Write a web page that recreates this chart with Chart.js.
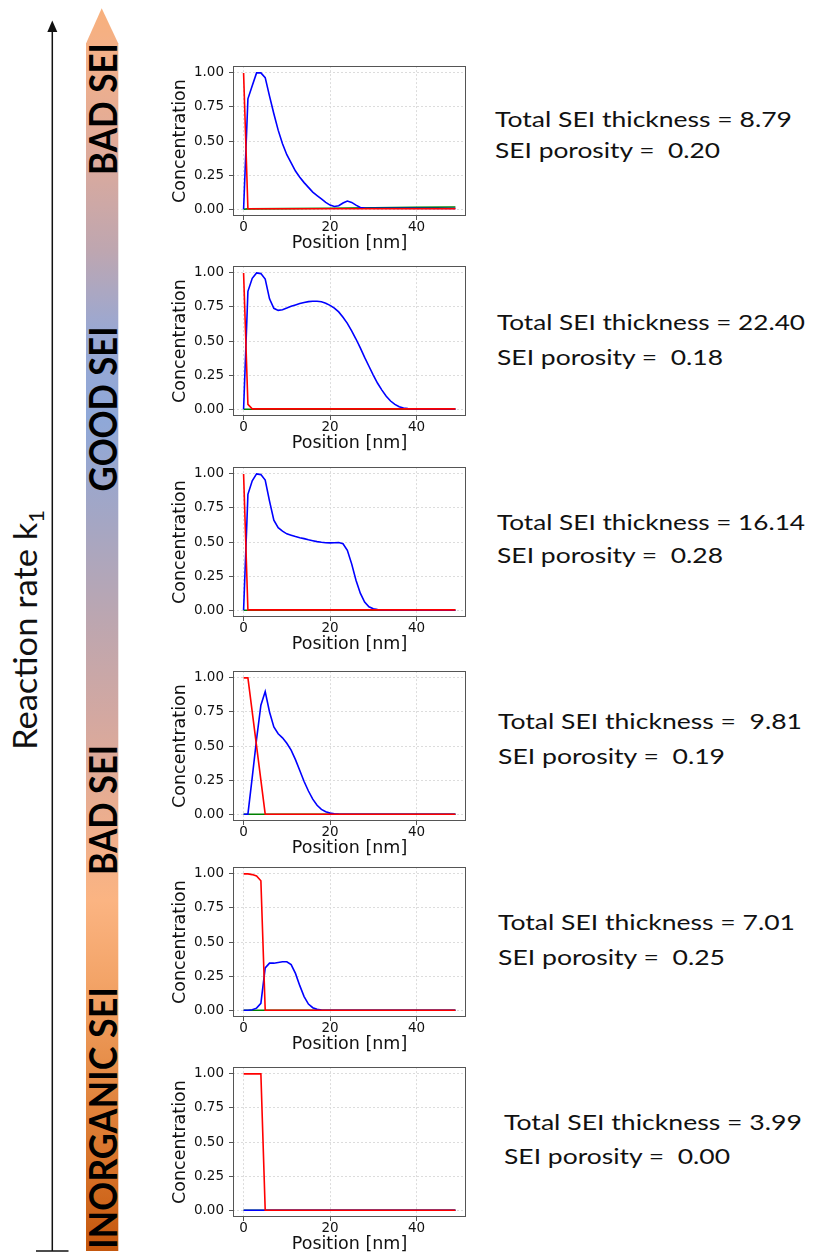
<!DOCTYPE html>
<html>
<head>
<meta charset="utf-8">
<script src="https://cdn.jsdelivr.net/npm/chart.js@4.4.1/dist/chart.umd.min.js"></script>
<style>
    body { margin: 0; width: 813px; height: 1259px; background: #fff; position: relative; overflow: hidden; }
    #deco { position: absolute; left: 0; top: 0; }
    #deco text { white-space: pre; }
    .panel { position: absolute; left: 160px; width: 310px; height: 201px; }
</style>
</head>
<body>
<svg id="deco" width="813" height="1259" xmlns="http://www.w3.org/2000/svg">
    <defs>
        <linearGradient id="seiGrad" gradientUnits="userSpaceOnUse" x1="0" y1="8" x2="0" y2="1251">
            <stop offset="0" stop-color="#f8b07c"/>
            <stop offset="0.042" stop-color="#f2b08a"/>
            <stop offset="0.122" stop-color="#dcaa9c"/>
            <stop offset="0.195" stop-color="#bea6b0"/>
            <stop offset="0.259" stop-color="#9aa8d2"/>
            <stop offset="0.331" stop-color="#8fa8d8"/>
            <stop offset="0.412" stop-color="#a4a6c4"/>
            <stop offset="0.492" stop-color="#bca6b0"/>
            <stop offset="0.573" stop-color="#d4a8a0"/>
            <stop offset="0.653" stop-color="#ecae8e"/>
            <stop offset="0.718" stop-color="#fbb482"/>
            <stop offset="0.782" stop-color="#f3a468"/>
            <stop offset="0.862" stop-color="#e48a44"/>
            <stop offset="0.943" stop-color="#d46e24"/>
            <stop offset="1" stop-color="#c4560c"/>
        </linearGradient>
    </defs>
    <g id="left"></g>
    <g id="info"></g>
</svg>

<script>
/* ==========================
   DADOS (leitura do gráfico)
========================== */
const THICKNESS = ["8.79", "22.40", "16.14", " 9.81", "7.01", "3.99"];
const POROSITY = ["0.20", "0.18", "0.28", "0.19", "0.25", "0.00"];
const REGIME_LABELS = ["BAD SEI", "GOOD SEI", "BAD SEI", "INORGANIC SEI"];
const X_TICKS = [0, 20, 40];
const Y_TICKS = [0, 0.25, 0.5, 0.75, 1.0];

// painel 1 (k1 mais alto)
const blue1X = [0, 1, 2, 3, 4, 5, 6, 7, 8, 9, 10, 11, 12, 13, 14, 15, 16, 17, 18, 19, 20, 21, 22, 23, 24, 25, 26, 27, 28, 49];
const blue1Y = [0, 0.81, 0.905, 1.0, 1.0, 0.965, 0.83, 0.70, 0.58, 0.48, 0.40, 0.34, 0.28, 0.235, 0.195, 0.16, 0.125, 0.10, 0.075, 0.05, 0.03, 0.02, 0.025, 0.045, 0.06, 0.05, 0.03, 0.012, 0.008, 0.005];
const red1X = [0, 1, 49];
const red1Y = [1.0, 0.003, 0.003];
const green1X = [0, 1, 10, 20, 30, 40, 49];
const green1Y = [0, 0.002, 0.004, 0.007, 0.01, 0.013, 0.016];

// painel 2
const blue2X = [0, 1, 2, 3, 4, 5, 6, 7, 8, 9, 10, 11, 12, 13, 14, 15, 16, 17, 18, 19, 20, 21, 22, 23, 24, 25, 26, 27, 28, 29, 30, 31, 32, 33, 34, 35, 36, 37, 38, 39, 40, 49];
const blue2Y = [0, 0.865, 0.96, 1.0, 0.995, 0.955, 0.81, 0.74, 0.725, 0.73, 0.742, 0.755, 0.765, 0.775, 0.783, 0.789, 0.792, 0.792, 0.788, 0.778, 0.762, 0.742, 0.714, 0.675, 0.63, 0.575, 0.515, 0.45, 0.38, 0.315, 0.25, 0.19, 0.14, 0.095, 0.06, 0.035, 0.018, 0.009, 0.004, 0.002, 0.001, 0.001];
const red2X = [0, 1, 2, 49];
const red2Y = [1.0, 0.035, 0.002, 0.002];
const green2X = [0, 49];
const green2Y = [0, 0];

// painel 3
const blue3X = [0, 1, 2, 3, 4, 5, 6, 7, 8, 9, 10, 11, 12, 13, 14, 15, 16, 17, 18, 19, 20, 21, 22, 23, 24, 25, 26, 27, 28, 29, 30, 31, 32, 49];
const blue3Y = [0, 0.85, 0.95, 1.0, 0.995, 0.955, 0.80, 0.66, 0.605, 0.58, 0.56, 0.55, 0.54, 0.532, 0.525, 0.517, 0.51, 0.503, 0.498, 0.495, 0.494, 0.495, 0.497, 0.488, 0.44, 0.34, 0.22, 0.125, 0.06, 0.025, 0.01, 0.004, 0.001, 0];
const red3X = [0, 1, 49];
const red3Y = [1.0, 0.002, 0.002];
const green3X = [0, 49];
const green3Y = [0, 0];

// painel 4
const blue4X = [0, 1, 2, 3, 4, 5, 6, 7, 8, 9, 10, 11, 12, 13, 14, 15, 16, 17, 18, 19, 20, 21, 22, 49];
const blue4Y = [0, 0, 0.27, 0.55, 0.80, 0.90, 0.75, 0.64, 0.59, 0.56, 0.52, 0.47, 0.40, 0.32, 0.24, 0.17, 0.11, 0.065, 0.035, 0.018, 0.008, 0.003, 0.001, 0];
const red4X = [0, 1, 5, 49];
const red4Y = [1.0, 1.0, 0, 0];
const green4X = [0, 49];
const green4Y = [0, 0];

// painel 5
const blue5X = [0, 1, 2, 3, 4, 5, 6, 7, 8, 9, 10, 11, 12, 13, 14, 15, 16, 17, 18, 49];
const blue5Y = [0, 0, 0.003, 0.015, 0.05, 0.31, 0.345, 0.345, 0.35, 0.355, 0.355, 0.335, 0.27, 0.18, 0.10, 0.045, 0.018, 0.006, 0.001, 0];
const red5X = [0, 1, 2, 3, 4, 5, 49];
const red5Y = [1.0, 1.0, 0.995, 0.985, 0.95, 0, 0];
const green5X = [0, 49];
const green5Y = [0, 0];

// painel 6 (SEI inorgânica)
const blue6X = [0, 49];
const blue6Y = [0, 0];
const red6X = [0, 4, 5, 49];
const red6Y = [1.0, 1.0, 0, 0];
const green6X = [0, 49];
const green6Y = [0, 0];

/* ==========================
   LAYOUT
========================== */
const CANVAS_W = 310;
const CANVAS_H = 201;
const PANEL_TOPS = [53, 253, 454, 658, 854, 1054];   // topo do canvas (área do gráfico = +8)
const INFO_POS = [
    { x: 495, y1: 127, y2: 158, w1: 297, w2: 225 },
    { x: 497, y1: 330, y2: 365, w1: 308, w2: 226 },
    { x: 497, y1: 530, y2: 563, w1: 308, w2: 226 },
    { x: 498, y1: 729, y2: 764, w1: 304, w2: 227 },
    { x: 498, y1: 930, y2: 965, w1: 297, w2: 227 },
    { x: 504, y1: 1130, y2: 1164, w1: 298, w2: 226 }
];
const LABEL_POS = [
    { cy: 109, len: 132 },
    { cy: 409, len: 165 },
    { cy: 810, len: 130 },
    { cy: 1118, len: 262 }
];

const SVG_NS = "http://www.w3.org/2000/svg";
function svgEl(tag, attrs, parent) {
    const el = document.createElementNS(SVG_NS, tag);
    Object.entries(attrs).forEach(([k, v]) => el.setAttribute(k, v));
    if (parent) parent.appendChild(el);
    return el;
}

/* ==========================
   SETA / BARRA À ESQUERDA
========================== */
function drawLeft() {
    const g = document.getElementById("left");

    // seta preta
    svgEl("line", { x1: 52.3, y1: 28, x2: 52.3, y2: 1251, stroke: "#111", "stroke-width": 1.5 }, g);
    svgEl("polygon", { points: "52.3,20.5 47.3,32 57.3,32", fill: "#111" }, g);
    svgEl("line", { x1: 36, y1: 1251, x2: 68.5, y2: 1251, stroke: "#111", "stroke-width": 1.5 }, g);

    const label = svgEl("text", {
        transform: "translate(37,630) rotate(-90)", "text-anchor": "middle",
        "font-family": "Lato, 'Open Sans', sans-serif", "font-size": 33, fill: "#111",
        textLength: 240, lengthAdjust: "spacingAndGlyphs"
    }, g);
    label.appendChild(document.createTextNode("Reaction rate k"));
    const sub = svgEl("tspan", { "font-size": 21, dy: 7 }, label);
    sub.textContent = "1";

    // barra em gradiente
    svgEl("polygon", { points: "86,43.5 118.3,43.5 101.7,8.3", fill: "url(#seiGrad)" }, g);
    svgEl("rect", { x: 86, y: 43, width: 32.3, height: 1208, fill: "url(#seiGrad)" }, g);

    REGIME_LABELS.forEach((txt, i) => {
        const p = LABEL_POS[i];
        const t = svgEl("text", {
            transform: `translate(117,${p.cy}) rotate(-90)`, "text-anchor": "middle",
            "font-family": "Lato, 'Open Sans', sans-serif", "font-weight": "bold",
            "font-size": 38, fill: "#000", textLength: p.len, lengthAdjust: "spacingAndGlyphs"
        }, g);
        t.textContent = txt;
    });
}

/* ==========================
   TEXTOS À DIREITA
========================== */
function drawInfo() {
    const g = document.getElementById("info");
    INFO_POS.forEach((p, i) => {
        const base = {
            "font-family": "Lato, 'Open Sans', sans-serif", "font-size": 22, fill: "#111",
            lengthAdjust: "spacingAndGlyphs"
        };
        const t1 = svgEl("text", { ...base, x: p.x, y: p.y1, textLength: p.w1 }, g);
        t1.textContent = `Total SEI thickness = ${THICKNESS[i]}`;
        const t2 = svgEl("text", { ...base, x: p.x, y: p.y2, textLength: p.w2 }, g);
        t2.textContent = `SEI porosity =  ${POROSITY[i]}`;
    });
}

/* ==========================
   GRÁFICOS
========================== */
const frameBox = {
    id: "frameBox",
    afterDraw(chart) {
        const { ctx, chartArea: a } = chart;
        ctx.save();
        ctx.strokeStyle = "#555";
        ctx.lineWidth = 1;
        ctx.strokeRect(Math.round(a.left) + 0.5, Math.round(a.top) + 0.5,
            Math.round(a.right - a.left) - 1, Math.round(a.bottom - a.top) - 1);
        ctx.restore();
    }
};

function toPoints(xs, ys) {
    return xs.map((x, i) => ({ x: x, y: ys[i] }));
}

function lineSet(xs, ys, color) {
    return {
        data: toPoints(xs, ys),
        borderColor: color,
        borderWidth: 1.6,
        pointRadius: 0,
        tension: 0,
        fill: false
    };
}

const PANELS = [
    { red: [red1X, red1Y], blue: [blue1X, blue1Y], green: [green1X, green1Y] },
    { red: [red2X, red2Y], blue: [blue2X, blue2Y], green: [green2X, green2Y] },
    { red: [red3X, red3Y], blue: [blue3X, blue3Y], green: [green3X, green3Y] },
    { red: [red4X, red4Y], blue: [blue4X, blue4Y], green: [green4X, green4Y] },
    { red: [red5X, red5Y], blue: [blue5X, blue5Y], green: [green5X, green5Y] },
    { red: [red6X, red6Y], blue: [blue6X, blue6Y], green: [green6X, green6Y] }
];

const tickFont = { family: "'DejaVu Sans', sans-serif", size: 13.5 };
const titleFont = { family: "'DejaVu Sans', sans-serif", size: 17.5 };

function renderPanel(p, i) {
    const wrap = document.createElement("div");
    wrap.className = "panel";
    wrap.style.top = PANEL_TOPS[i] + "px";
    const cv = document.createElement("canvas");
    cv.width = CANVAS_W;
    cv.height = CANVAS_H;
    cv.style.width = CANVAS_W + "px";
    cv.style.height = CANVAS_H + "px";
    wrap.appendChild(cv);
    document.body.appendChild(wrap);

    new Chart(cv, {
        type: "line",
        data: {
            // primeiro dataset fica por cima
            datasets: [
                lineSet(p.red[0], p.red[1], "#ff0000"),
                lineSet(p.blue[0], p.blue[1], "#0000ff"),
                lineSet(p.green[0], p.green[1], "#008000")
            ]
        },
        options: {
            responsive: false,
            animation: false,
            events: [],
            layout: { padding: { top: 8, right: 4, left: 0, bottom: 0 } },
            plugins: { legend: { display: false }, tooltip: { enabled: false } },
            scales: {
                x: {
                    type: "linear",
                    min: -2.45,
                    max: 51.45,
                    afterFit: (s) => { s.height = 38; },
                    afterBuildTicks: (s) => { s.ticks = X_TICKS.map(v => ({ value: v })); },
                    grid: { color: "#dcdcdc", tickColor: "#555", tickLength: 4, lineWidth: 1 },
                    border: { display: false, dash: [2, 2] },
                    ticks: { font: tickFont, color: "#111", padding: -1, maxRotation: 0 },
                    title: { display: true, text: "Position [nm]", font: titleFont, color: "#111", padding: { top: 0, bottom: 0 } }
                },
                y: {
                    type: "linear",
                    min: -0.05,
                    max: 1.05,
                    afterFit: (s) => { s.width = 73; },
                    afterBuildTicks: (s) => { s.ticks = Y_TICKS.map(v => ({ value: v })); },
                    grid: { color: "#dcdcdc", tickColor: "#555", tickLength: 4, lineWidth: 1 },
                    border: { display: false, dash: [2, 2] },
                    ticks: { font: tickFont, color: "#111", padding: 5, callback: (v) => Number(v).toFixed(2) },
                    title: { display: true, text: "Concentration", font: titleFont, color: "#111", padding: { top: 10, bottom: 0 } }
                }
            }
        },
        plugins: [frameBox]
    });
}

drawLeft();
drawInfo();
PANELS.forEach(renderPanel);
</script>
</body>
</html>
